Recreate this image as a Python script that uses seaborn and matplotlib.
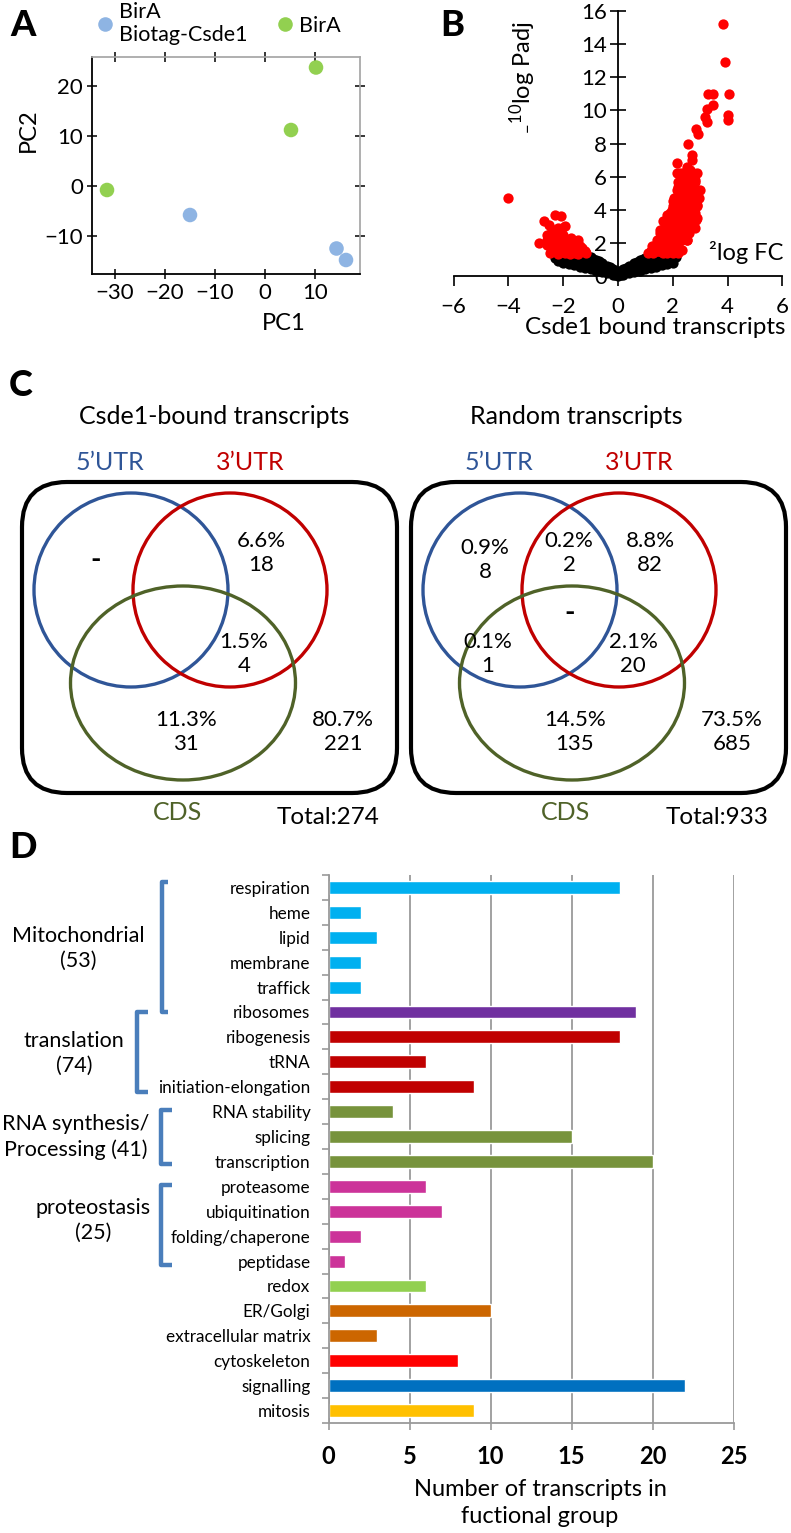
import numpy as np
import pandas as pd
import matplotlib.pyplot as plt
import seaborn as sns
from matplotlib.patches import Circle, Ellipse, FancyBboxPatch

# ---- panel A: PCA ----
pca_groups = ["BirA\nBiotag-Csde1", "BirA"]
pc1_csde1 = [-15.0, 14.3, 16.2]
pc2_csde1 = [-5.8, -12.5, -14.8]
pc1_bira = [-31.6, 5.2, 10.2]
pc2_bira = [-0.8, 11.2, 23.7]

# ---- panel B: volcano ----
red_x = [3.84, 3.90, 3.30, 3.48, 4.04, 3.48, 3.24, 3.18, 3.24, 4.02, 4.02,
         2.83, 2.92, 2.56, 2.70, 2.69, 2.14, 2.50, 2.38, 2.87, 2.81, 2.99,
         2.26, 2.62, 2.02, 2.50, 2.75, 2.87, 2.69, 2.81, 1.78, 1.66, 1.54,
         1.42, 1.23, 1.11, 2.02, 2.14, 1.90, 2.26, 1.78, 1.66, 1.42, 2.02,
         2.38, 2.32, 1.96, 2.20, 2.44, 2.50, 1.66, 1.60, 1.35, 1.90, 2.14,
         2.32, 1.29, 1.78, 2.20, 2.32, 2.44, 2.14, 2.57, 2.62, 1.90, 2.10,
         2.30, 2.00, 1.80, 1.70, 2.40, 2.60, 2.35, 2.45, 2.55, 2.70, 2.80,
         2.65, 2.90, 2.50, 2.20, 1.50, 1.95, 1.20, 1.40, 1.60, 1.85, 2.05,
         # dense right cluster
         1.20, 1.35, 1.50, 1.65, 1.80, 1.95, 2.10,
         1.30, 1.45, 1.60, 1.75, 1.90, 2.05, 2.20,
         1.45, 1.60, 1.75, 1.90, 2.05, 2.20, 2.35, 2.50,
         1.55, 1.70, 1.85, 2.00, 2.15, 2.30, 2.45, 2.60,
         1.70, 1.85, 2.00, 2.15, 2.30, 2.45, 2.60, 2.75,
         1.80, 1.95, 2.10, 2.25, 2.40, 2.55, 2.70, 2.85,
         1.90, 2.05, 2.20, 2.35, 2.50, 2.65, 2.80,
         2.00, 2.15, 2.30, 2.45, 2.60, 2.75, 2.90,
         2.05, 2.20, 2.35, 2.50, 2.65, 2.80, 2.95,
         2.15, 2.30, 2.45, 2.60, 2.85,
         2.20, 2.35, 2.50, 2.80,
         2.25, 2.40, 2.55, 2.75,
         # left cluster
         -4.00, -2.90, -2.70, -2.30, -2.09, -1.94, -2.52, -2.46, -2.06,
         -2.00, -2.28, -2.58, -2.40, -1.70, -1.46, -1.40, -1.94, -2.18,
         -1.70, -1.34, -2.40, -1.94, -1.58, -1.16, -2.18, -2.46, -1.80,
         -2.10, -1.55, -1.25, -2.25, -1.85,
         -2.50, -2.30, -2.10, -1.90, -1.70, -1.50, -1.30, -1.20, -2.40,
         -2.20, -2.00, -1.80, -1.60, -1.40, -2.60, -2.35, -2.20, -2.60,
         -1.75, -1.45, -2.00]
red_y = [15.2, 12.9, 11.0, 11.0, 11.0, 10.3, 10.1, 9.6, 9.3, 9.7, 9.4,
         8.9, 8.6, 8.0, 7.3, 7.0, 6.8, 6.6, 6.2, 6.2, 5.8, 5.2,
         5.6, 5.1, 4.5, 4.5, 4.5, 4.3, 3.5, 2.9, 3.7, 3.3, 2.8,
         2.2, 1.8, 1.4, 3.5, 3.0, 2.6, 2.2, 1.8, 1.4, 1.6, 1.4,
         2.6, 3.3, 4.0, 4.5, 3.8, 3.2, 2.6, 2.0, 1.8, 2.0, 1.8,
         1.6, 1.4, 1.4, 5.4, 5.0, 5.5, 6.2, 6.0, 6.4, 3.2, 4.0,
         4.0, 2.3, 2.3, 2.9, 3.0, 4.0, 4.6, 5.0, 5.6, 5.5, 5.0,
         4.2, 3.5, 2.2, 1.4, 1.5, 1.5, 1.5, 1.5, 1.7, 1.6, 1.7,
         1.5, 1.5, 1.5, 1.5, 1.5, 1.5, 1.5,
         1.8, 1.8, 1.8, 1.8, 1.8, 1.8, 1.8,
         2.2, 2.2, 2.2, 2.2, 2.2, 2.2, 2.2, 2.2,
         2.6, 2.6, 2.6, 2.6, 2.6, 2.6, 2.6, 2.6,
         3.0, 3.0, 3.0, 3.0, 3.0, 3.0, 3.0, 3.0,
         3.4, 3.4, 3.4, 3.4, 3.4, 3.4, 3.4, 3.4,
         3.8, 3.8, 3.8, 3.8, 3.8, 3.8, 3.8,
         4.2, 4.2, 4.2, 4.2, 4.2, 4.2, 4.2,
         4.7, 4.7, 4.7, 4.7, 4.7, 4.7, 4.7,
         5.2, 5.2, 5.2, 5.2, 5.2,
         5.7, 5.7, 5.7, 5.7,
         6.2, 6.2, 6.2, 6.2,
         4.7, 2.0, 3.3, 3.7, 3.6, 3.0, 3.1, 2.6, 2.9,
         2.5, 2.4, 2.5, 2.0, 2.3, 2.2, 1.8, 2.0, 1.7,
         1.7, 1.5, 1.6, 1.4, 1.4, 1.4, 1.35, 1.7, 1.5,
         2.2, 1.8, 1.5, 1.45, 1.9,
         1.4, 1.5, 1.6, 1.7, 1.9, 1.9, 1.7, 1.5, 2.1,
         2.2, 2.3, 2.1, 2.0, 1.6, 1.9, 2.8, 2.9, 2.2,
         1.35, 1.35, 1.45]
black_x = [-2.2, -2.0, -1.8, -1.6, -1.4, -1.2, -1.0, -0.8, -0.6, -0.4, -0.2,
           0.0, 0.2, 0.4, 0.6, 0.8, 1.0, 1.2, 1.4, 1.6, 1.8, 2.0,
           -2.2, -2.0, -1.8, -1.6, -1.4, -1.2, -1.0, -0.8, -0.6, -0.4, -0.2,
           0.0, 0.2, 0.4, 0.6, 0.8, 1.0, 1.2, 1.4, 1.6, 1.8, 2.0,
           -2.2, -2.0, -1.8, -1.6, -1.4, -1.2, -1.0, -0.8, -0.6, -0.4, -0.2,
           0.0, 0.2, 0.4, 0.6, 0.8, 1.0, 1.2, 1.4, 1.6, 1.8, 2.0,
           -2.3, 2.1, -0.1, 0.1, -1.1, 1.1, -0.5, 0.5, -1.5, 1.5, -1.9, 1.9,
           -0.9, 0.9, -0.7, 0.7, -0.3, 0.3]
black_y = [0.90, 0.80, 0.72, 0.65, 0.56, 0.48, 0.40, 0.32, 0.24, 0.16, 0.08,
           0.00, 0.08, 0.16, 0.24, 0.32, 0.40, 0.48, 0.56, 0.65, 0.72, 0.80,
           1.10, 1.05, 1.00, 0.95, 0.90, 0.85, 0.75, 0.65, 0.50, 0.35, 0.20,
           0.15, 0.20, 0.35, 0.50, 0.65, 0.75, 0.85, 0.90, 0.95, 1.00, 1.05,
           1.25, 1.30, 1.30, 1.30, 1.25, 1.20, 1.15, 0.95, 0.80, 0.60, 0.40,
           0.30, 0.40, 0.60, 0.80, 0.95, 1.10, 1.20, 1.25, 1.30, 1.30, 1.25,
           1.10, 1.15, 0.05, 0.05, 0.60, 0.60, 0.40, 0.40, 1.10, 1.10, 1.20, 1.15,
           1.05, 1.00, 0.90, 0.85, 0.55, 0.50]

# ---- panel C: Venn counts per region ----
venn_regions = ["5'UTR", "5'UTR+3'UTR", "3'UTR", "5'UTR+CDS", "all three",
                "3'UTR+CDS", "CDS", "none"]
bound_n = [0, None, 18, None, None, 4, 31, 221]
bound_pct = [None, None, 6.6, None, None, 1.5, 11.3, 80.7]
random_n = [8, 2, 82, 1, 0, 20, 135, 685]
random_pct = [0.9, 0.2, 8.8, 0.1, None, 2.1, 14.5, 73.5]
venn_totals = [274, 933]

# ---- panel D: functional groups ----
go_categories = ["respiration", "heme", "lipid", "membrane", "traffick",
                 "ribosomes", "ribogenesis", "tRNA", "initiation-elongation",
                 "RNA stability", "splicing", "transcription", "proteasome",
                 "ubiquitination", "folding/chaperone", "peptidase", "redox",
                 "ER/Golgi", "extracellular matrix", "cytoskeleton",
                 "signalling", "mitosis"]
go_counts = [18, 2, 3, 2, 2, 19, 18, 6, 9, 4, 15, 20, 6, 7, 2, 1, 6, 10, 3, 8,
             22, 9]
go_colors = ["#00B0F0"] * 5 + ["#7030A0"] + ["#C00000"] * 3 + ["#77933C"] * 3 \
    + ["#CC3399"] * 4 + ["#92D050"] + ["#CC6600"] * 2 + ["#FF0000", "#0070C0",
                                                         "#FFC000"]

sns.set_theme(style="white", rc={"text.color": "black", "axes.labelcolor": "black",
                                 "xtick.color": "black", "ytick.color": "black",
                                 "axes.edgecolor": "black"})
plt.rcParams["font.family"] = ["Lato", "DejaVu Sans"]
plt.rcParams["mathtext.fontset"] = "custom"
plt.rcParams["mathtext.rm"] = "Lato"

W, H = 791, 1533
fig = plt.figure(figsize=(W / 100, H / 100), dpi=100)


def px_axes(x0, y0, x1, y1):
    return fig.add_axes([x0 / W, 1 - y1 / H, (x1 - x0) / W, (y1 - y0) / H])


# ================= A =================
ax_a = px_axes(92, 57, 360, 274)
pca = pd.DataFrame({
    "PC1": pc1_csde1 + pc1_bira,
    "PC2": pc2_csde1 + pc2_bira,
    "group": [pca_groups[0]] * 3 + [pca_groups[1]] * 3,
})
sns.scatterplot(data=pca, x="PC1", y="PC2", hue="group", hue_order=pca_groups,
                palette=["#8EB4E3", "#92D050"], s=110, linewidth=0, ax=ax_a)
ax_a.set_xlim(-34.6, 19)
ax_a.set_ylim(-17.6, 25.8)
ax_a.set_xticks([-30, -20, -10, 0, 10])
ax_a.set_yticks([-10, 0, 10, 20])
ax_a.set_xlabel("")
ax_a.set_ylabel("")
ax_a.tick_params(labelsize=16, direction="inout", length=7, width=1.1,
                 bottom=True, left=True, top=True, right=True, pad=3)
for t in ax_a.xaxis.get_major_ticks() + ax_a.yaxis.get_major_ticks():
    t.tick2line.set_color("#A6A6A6")
for side in ["top", "right"]:
    ax_a.spines[side].set_color("#A6A6A6")
for side in ["left", "bottom"]:
    ax_a.spines[side].set_linewidth(1.3)
handles, labels = ax_a.get_legend_handles_labels()
ax_a.legend(handles, labels, ncol=2, loc="center left",
            bbox_to_anchor=(95 / W, 1 - 23.5 / H), bbox_transform=fig.transFigure,
            frameon=False, fontsize=15.5, handlelength=0.9, handletextpad=0.2,
            columnspacing=1.3, borderpad=0, borderaxespad=0, markerscale=1.0,
            labelspacing=0)

# ================= B =================
ax_b = px_axes(453.6, 11, 782.4, 276)
sns.scatterplot(x=black_x, y=black_y, color="black", s=55, linewidth=0,
                ax=ax_b, clip_on=False)
sns.scatterplot(x=red_x, y=red_y, color="#FF0000", s=55, linewidth=0,
                ax=ax_b, clip_on=False)
ax_b.set_xlim(-6, 6)
ax_b.set_ylim(0, 16)
ax_b.set_xticks(range(-6, 7, 2))
ax_b.set_yticks(range(0, 17, 2))
ax_b.spines["left"].set_position(("data", 0))
ax_b.spines["right"].set_visible(False)
ax_b.spines["top"].set_visible(False)
for side in ["left", "bottom"]:
    ax_b.spines[side].set_linewidth(1.3)
ax_b.tick_params(axis="y", left=True, direction="inout", length=12, width=1.2,
                 labelsize=16, pad=2)
ax_b.tick_params(axis="x", bottom=True, direction="out", length=7, width=1.2,
                 labelsize=16, pad=8)

# ================= D =================
ax_d = px_axes(328.5, 875, 733.5, 1423)
go = pd.DataFrame({"category": go_categories, "count": go_counts})
sns.barplot(data=go, x="count", y="category", hue="category",
            palette=go_colors, legend=False, width=0.52, saturation=1,
            orient="h", ax=ax_d)
ax_d.set_xlim(0, 25)
ax_d.set_ylim(21.5, -0.5)
ax_d.set_xticks(range(0, 26, 5))
ax_d.grid(axis="x", color="#9A9A9A", linewidth=1.3)
ax_d.set_axisbelow(True)
ax_d.set_xlabel("")
ax_d.set_ylabel("")
for side in ["top", "right"]:
    ax_d.spines[side].set_visible(False)
for side in ["left", "bottom"]:
    ax_d.spines[side].set_color("#9A9A9A")
    ax_d.spines[side].set_linewidth(1.3)
ax_d.set_yticks(np.arange(-0.5, 22, 1), minor=True)
ax_d.tick_params(axis="y", which="major", length=0, pad=13, labelsize=12.3)
ax_d.tick_params(axis="y", which="minor", left=True, length=5, width=1.2,
                 color="#9A9A9A")
ax_d.tick_params(axis="x", bottom=True, length=5, width=1.2, color="#9A9A9A",
                 labelsize=17, pad=11)
for lbl in ax_d.get_xticklabels():
    lbl.set_fontweight("bold")

# ================= overlay (texts, Venn, brackets) =================
ov = fig.add_axes([0, 0, 1, 1], zorder=10)
ov.set_xlim(0, W)
ov.set_ylim(H, 0)
ov.axis("off")

for lab, (x, y) in zip("ABCD", [(23, 25), (452, 25), (21, 385), (23, 848)]):
    ov.text(x, y, lab, fontsize=26, fontweight="black", ha="center", va="center")

ov.text(28, 130, "PC2", fontsize=17, rotation=90, ha="center", va="center")
ov.text(284, 323, "PC1", fontsize=17, ha="center", va="center")
ov.text(523, 77, r"$\mathregular{{}_{-}{}^{10}}$log Padj", fontsize=17,
        rotation=90, ha="center", va="center")
ov.text(746, 252, "²log FC", fontsize=17, ha="center", va="center")
ov.text(655, 327, "Csde1 bound transcripts", fontsize=17.5, ha="center",
        va="center")

# Venn diagrams
c_blue, c_red, c_green = "#2F5597", "#C00000", "#4F6228"
region_xy = [(96, 560), (180, 553), (261, 553), (99, 654), (181, 613),
             (244, 654), (186, 732), (343, 732)]
venn_titles = ["Csde1-bound transcripts", "Random transcripts"]
for k, (dx, counts, pcts) in enumerate([(0, bound_n, bound_pct),
                                        (389, random_n, random_pct)]):
    ov.add_patch(FancyBboxPatch((22 + dx, 482), 375, 311,
                                boxstyle="round,pad=0,rounding_size=45",
                                fill=False, lw=3, ec="black"))
    ov.add_patch(Circle((131 + dx, 590), 97, fill=False, lw=2.4, ec=c_blue))
    ov.add_patch(Circle((230 + dx, 590), 97, fill=False, lw=2.4, ec=c_red))
    ov.add_patch(Ellipse((183 + dx, 683), 225, 194, fill=False, lw=2.4,
                         ec=c_green))
    ov.text(214 + dx - (k * 27), 417, venn_titles[k], fontsize=18,
            ha="center", va="center")
    ov.text(110 + dx, 462, "5’UTR", fontsize=18, color=c_blue, ha="center",
            va="center")
    ov.text(250 + dx, 462, "3’UTR", fontsize=18, color=c_red, ha="center",
            va="center")
    ov.text(177 + dx, 812, "CDS", fontsize=18, color=c_green, ha="center",
            va="center")
    ov.text(328 + dx, 817, f"Total:{venn_totals[k]}", fontsize=17.5,
            ha="center", va="center")
    for (x, y), n, p in zip(region_xy, counts, pcts):
        if n is None:
            continue
        if n == 0:
            ov.text(x + dx, y, "-", fontsize=20, fontweight="bold",
                    ha="center", va="center")
        else:
            ov.text(x + dx, y, f"{p:.1f}%\n{n}", fontsize=16, ha="center",
                    va="center", linespacing=1.2)

# Panel D group brackets and labels
bracket_col = "#4A7EBB"
for xv, xh, y0, y1 in [(162, 168, 882, 1012), (137, 148, 1012, 1092),
                       (161, 172, 1110, 1164), (161, 172, 1185, 1265)]:
    ov.plot([xh, xv, xv, xh], [y0, y0, y1, y1], color=bracket_col, lw=3.2,
            solid_joinstyle="round", solid_capstyle="butt")
group_labels = [("Mitochondrial\n(53)", 78, 948), ("translation\n(74)", 74, 1053),
                ("RNA synthesis/\nProcessing (41)", 76, 1137),
                ("proteostasis\n(25)", 93, 1220)]
for txt, x, y in group_labels:
    ov.text(x, y, txt, fontsize=15.5, ha="center", va="center", linespacing=1.3)

ov.text(540, 1503, "Number of transcripts in\nfuctional group", fontsize=17,
        ha="center", va="center", linespacing=1.3)

fig.savefig("out.png", dpi=100)
